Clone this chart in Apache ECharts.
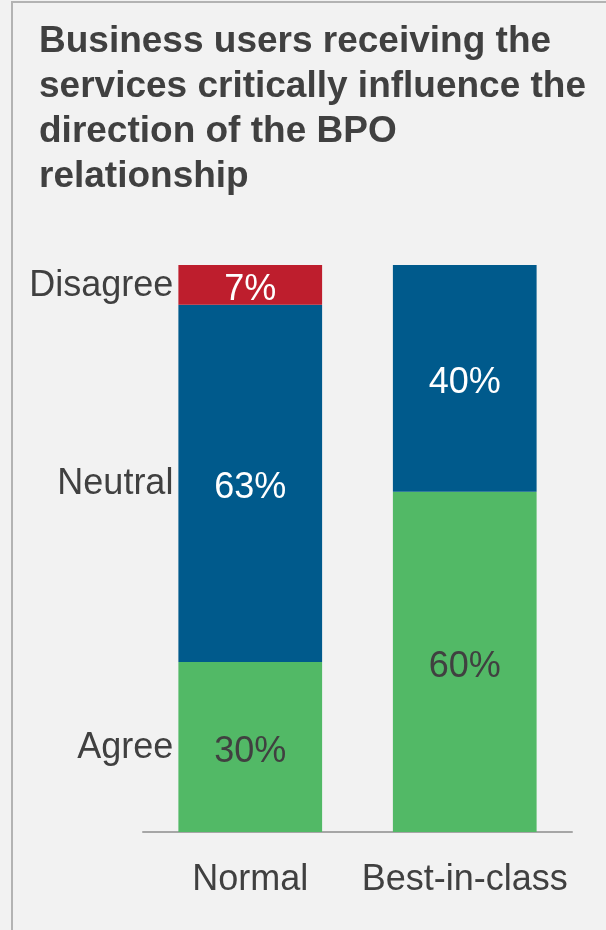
<!DOCTYPE html>
<html>
<head>
<meta charset="utf-8">
<script src="https://cdn.jsdelivr.net/npm/echarts@6/dist/echarts.min.js"></script>
<style>
html, body { margin: 0; padding: 0; background: #f2f2f2; }
#frame { position: absolute; left: 11px; top: 1px; width: 600px; height: 935px; border-left: 2px solid #b3b3b3; border-top: 2px solid #b3b3b3; }
#main { position: absolute; left: 0; top: 0; width: 606px; height: 930px; }
</style>
</head>
<body>
<div id="frame"></div>
<div id="main"></div>
<script>
/* 数据 */
var groups = ['Normal', 'Best-in-class'];
var agreeVals = [30, 60];
var neutralVals = [63, 40];
var disagreeVals = [7, null];
var titleLines = ['Business users receiving the', 'services critically influence the', 'direction of the BPO', 'relationship'];

var txtColor = '#404040';
var fontName = '"Liberation Sans", Arial, sans-serif';

function pctLabel(color){
	return {
		show: true,
		position: 'inside',
		offset: [0, 5],
		color: color,
		fontFamily: fontName,
		fontSize: 36,
		formatter: function(p){ return p.value == null ? '' : p.value + '%'; }
	};
}

/* 左侧的 Agree/Neutral/Disagree 文字，只挂在 Normal 那一列 */
function sideSeries(name, vals){
	return {
		name: name,
		type: 'bar',
		stack: 'side',
		barWidth: '67%',
		barGap: '-100%',
		silent: true,
		itemStyle: { color: 'rgba(0,0,0,0)' },
		label: {
			show: true,
			position: 'left',
			distance: 5,
			offset: [0, 1],
			color: txtColor,
			fontFamily: fontName,
			fontSize: 36,
			formatter: function(p){ return p.dataIndex === 0 ? p.seriesName : ''; }
		},
		data: [vals[0], null]
	};
}

var chart = echarts.init(document.getElementById('main'));
var option = {
	animation: false,
	backgroundColor: 'transparent',
	title: {
		text: titleLines.join('\n'),
		left: 34,
		top: 14,
		textStyle: {
			color: txtColor,
			fontFamily: fontName,
			fontWeight: 'bold',
			fontSize: 37,
			lineHeight: 45
		}
	},
	grid: {
		left: 143,
		right: 34,
		top: 265,
		bottom: 98
	},
	xAxis: {
		type: 'category',
		data: groups,
		axisTick: { show: false },
		axisLine: { lineStyle: { color: '#a6a6a6', width: 2 } },
		axisLabel: {
			color: txtColor,
			fontFamily: fontName,
			fontSize: 36,
			margin: 30,
			interval: 0
		}
	},
	yAxis: {
		type: 'value',
		min: 0,
		max: 100,
		show: false
	},
	series: [
		{
			name: 'Agree', type: 'bar', stack: 'pct', barWidth: '67%', barGap: '-100%',
			itemStyle: { color: '#52b966' },
			label: pctLabel(txtColor),
			data: agreeVals
		},
		{
			name: 'Neutral', type: 'bar', stack: 'pct', barWidth: '67%', barGap: '-100%',
			itemStyle: { color: '#005a8c' },
			label: pctLabel('#ffffff'),
			data: neutralVals
		},
		{
			name: 'Disagree', type: 'bar', stack: 'pct', barWidth: '67%', barGap: '-100%',
			itemStyle: { color: '#be1e2d' },
			label: pctLabel('#ffffff'),
			data: disagreeVals
		},
		sideSeries('Agree', agreeVals),
		sideSeries('Neutral', neutralVals),
		sideSeries('Disagree', disagreeVals)
	]
};
chart.setOption(option);
</script>
</body>
</html>
